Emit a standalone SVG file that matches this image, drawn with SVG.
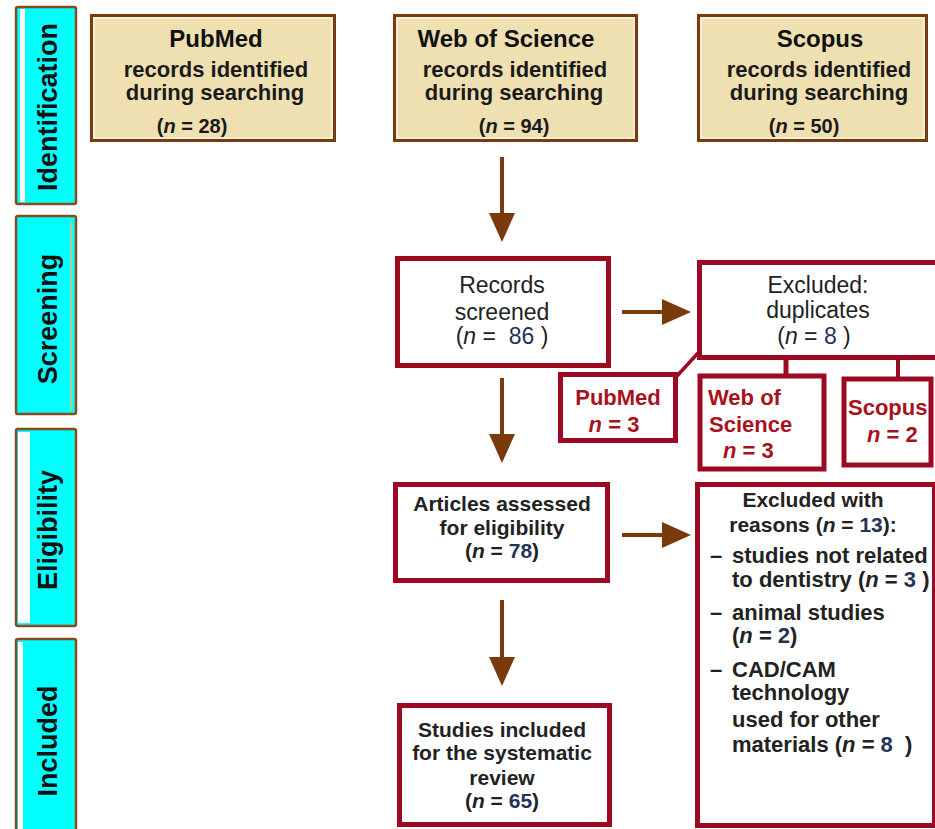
<svg xmlns="http://www.w3.org/2000/svg" width="935" height="829" viewBox="0 0 935 829">
<style>
text{font-family:"Liberation Sans",Arial,sans-serif;}
.phase{fill:#00FFFF;stroke:#8B4A1C;stroke-width:2.5;}
.plab{font-size:27px;font-weight:bold;fill:#111;text-anchor:middle;}
.src{fill:#EFE0B1;stroke:#7A3A10;stroke-width:3;}
.srcin{fill:none;stroke:#FFFFFF;stroke-width:1;}
.ttl{font-size:24px;font-weight:bold;fill:#111;text-anchor:middle;}
.srt{font-size:22px;font-weight:bold;fill:#1a1a1a;text-anchor:middle;}
.nn{font-size:20px;font-weight:bold;fill:#1a1a1a;text-anchor:middle;}
.box{fill:#FFFFFF;stroke:#9B0A22;stroke-width:5;}
.reg{font-size:23px;fill:#222;text-anchor:middle;}
.bt{font-size:21px;font-weight:bold;fill:#222;text-anchor:middle;}
.lt{font-size:22px;font-weight:bold;fill:#222;}
.red{font-size:22px;font-weight:bold;fill:#A8121E;}
.num{fill:#1F3456;}
.arr{stroke:#7B3A0C;stroke-width:4;fill:none;}
.head{fill:#7B3A0C;}
.con{stroke:#9B0A22;fill:none;}
</style>

<g id="phase-identification">
<rect class="phase" x="16" y="7" width="60" height="197" rx="2"/>
<rect x="20" y="9" width="5" height="193" fill="#FFFFFF"/>
<text class="plab" transform="translate(57,107) rotate(-90)">Identification</text>
</g>
<g id="phase-screening">
<rect class="phase" x="16" y="216" width="60" height="198" rx="2"/>
<line x1="71" y1="222" x2="71" y2="410" stroke="#E8C060" stroke-width="1.5"/>
<text class="plab" transform="translate(57,319) rotate(-90)">Screening</text>
</g>
<g id="phase-eligibility">
<rect class="phase" x="16" y="429" width="60" height="197" rx="2"/>
<rect x="18" y="432" width="12" height="191" fill="#FFFFFF"/>
<text class="plab" transform="translate(57,530) rotate(-90)">Eligibility</text>
</g>
<g id="phase-included">
<rect class="phase" x="16" y="639" width="60" height="200" rx="2"/>
<rect x="18" y="642" width="5" height="190" fill="#FFFFFF"/>
<text class="plab" transform="translate(57,741) rotate(-90)">Included</text>
</g>

<g id="src-pubmed">
<rect class="src" x="91.5" y="15.5" width="243" height="125"/>
<rect class="srcin" x="94" y="18" width="238" height="120"/>
<text class="ttl" x="216" y="47">PubMed</text>
<text class="srt" x="216" y="77">records identified</text>
<text class="srt" x="215" y="100">during searching</text>
<text class="nn" x="192" y="133">(<tspan font-style="italic">n</tspan> = 28)</text>
</g>
<g id="src-wos">
<rect class="src" x="394.5" y="15.5" width="242" height="125"/>
<rect class="srcin" x="397" y="18" width="237" height="120"/>
<text class="ttl" x="506" y="47">Web of Science</text>
<text class="srt" x="515" y="77">records identified</text>
<text class="srt" x="514" y="100">during searching</text>
<text class="nn" x="514" y="133">(<tspan font-style="italic">n</tspan> = 94)</text>
</g>
<g id="src-scopus">
<rect class="src" x="698.5" y="15.5" width="228" height="125"/>
<rect class="srcin" x="701" y="18" width="223" height="120"/>
<text class="ttl" x="820" y="47">Scopus</text>
<text class="srt" x="819" y="77">records identified</text>
<text class="srt" x="819" y="100">during searching</text>
<text class="nn" x="804" y="133">(<tspan font-style="italic">n</tspan> = 50)</text>
</g>

<g id="records-screened">
<rect class="box" x="397.5" y="258.5" width="211" height="107"/>
<text class="reg" x="502" y="293">Records</text>
<text class="reg" x="502" y="320">screened</text>
<text class="reg" x="502" y="344" xml:space="preserve">(<tspan font-style="italic">n</tspan> =  <tspan class="num">86</tspan> )</text>
</g>
<g id="excluded-duplicates">
<rect class="box" x="699.5" y="262.5" width="250" height="95"/>
<text class="reg" x="818" y="293">Excluded:</text>
<text class="reg" x="818" y="318">duplicates</text>
<text class="reg" x="814" y="344" xml:space="preserve">(<tspan font-style="italic">n</tspan> = <tspan class="num">8</tspan> )</text>
</g>
<g id="dup-pubmed">
<rect class="box" x="560.5" y="374.5" width="115" height="66"/>
<text class="red" x="618" y="405" text-anchor="middle">PubMed</text>
<text class="red" x="614" y="432" text-anchor="middle"><tspan font-style="italic">n</tspan> = 3</text>
</g>
<g id="dup-wos">
<rect class="box" x="700" y="376" width="124" height="93" stroke-width="6"/>
<text class="red" x="708" y="405">Web of</text>
<text class="red" x="709" y="432">Science</text>
<text class="red" x="723" y="458"><tspan font-style="italic">n</tspan> = 3</text>
</g>
<g id="dup-scopus">
<rect class="box" x="844" y="379" width="87" height="86" stroke-width="4.5"/>
<text class="red" x="848" y="415">Scopus</text>
<text class="red" x="867" y="442"><tspan font-style="italic">n</tspan> = 2</text>
</g>

<g id="articles-assessed">
<rect class="box" x="395.5" y="484.5" width="212" height="96"/>
<text class="bt" x="502" y="511">Articles assessed</text>
<text class="bt" x="502" y="535">for eligibility</text>
<text class="bt" x="502" y="558">(<tspan font-style="italic">n</tspan> = <tspan class="num">78</tspan>)</text>
</g>
<g id="excluded-reasons">
<rect class="box" x="697.5" y="484.5" width="237" height="341"/>
<text class="bt" x="813" y="507">Excluded with</text>
<text class="bt" x="813" y="532">reasons (<tspan font-style="italic">n</tspan> = <tspan class="num">13</tspan>):</text>
<text class="lt" x="710" y="563">–</text>
<text class="lt" x="732" y="563">studies not related</text>
<text class="lt" x="732" y="587">to dentistry (<tspan font-style="italic">n</tspan> = <tspan class="num">3</tspan> )</text>
<text class="lt" x="710" y="620">–</text>
<text class="lt" x="732" y="620">animal studies</text>
<text class="lt" x="732" y="643">(<tspan font-style="italic">n</tspan> = <tspan class="num">2</tspan>)</text>
<text class="lt" x="710" y="677">–</text>
<text class="lt" x="732" y="677">CAD/CAM</text>
<text class="lt" x="732" y="700">technology</text>
<text class="lt" x="732" y="727">used for other</text>
<text class="lt" x="732" y="752" xml:space="preserve">materials (<tspan font-style="italic">n</tspan> = <tspan class="num">8</tspan>  )</text>
</g>
<g id="studies-included">
<rect class="box" x="399.5" y="705.5" width="210" height="119"/>
<text class="bt" x="502" y="737">Studies included</text>
<text class="bt" x="502" y="760">for the systematic</text>
<text class="bt" x="502" y="785">review</text>
<text class="bt" x="502" y="808">(<tspan font-style="italic">n</tspan> = <tspan class="num">65</tspan>)</text>
</g>

<g id="connectors">
<line class="arr" x1="502" y1="157" x2="502" y2="216"/>
<polygon class="head" points="489,213 515,213 502,242"/>
<line class="arr" x1="622" y1="312" x2="665" y2="312"/>
<polygon class="head" points="662,299 662,325 691,312"/>
<line class="arr" x1="502" y1="378" x2="502" y2="437"/>
<polygon class="head" points="489,434 515,434 502,463"/>
<line class="arr" x1="622" y1="535" x2="665" y2="535"/>
<polygon class="head" points="662,522 662,548 691,535"/>
<line class="arr" x1="502" y1="600" x2="502" y2="660"/>
<polygon class="head" points="489,657 515,657 502,686"/>
<line class="con" x1="698" y1="353" x2="677" y2="376" stroke-width="3.5"/>
<line class="con" x1="786" y1="358" x2="786" y2="375" stroke-width="5"/>
<line class="con" x1="898" y1="358" x2="898" y2="379" stroke-width="4"/>
</g>
</svg>
